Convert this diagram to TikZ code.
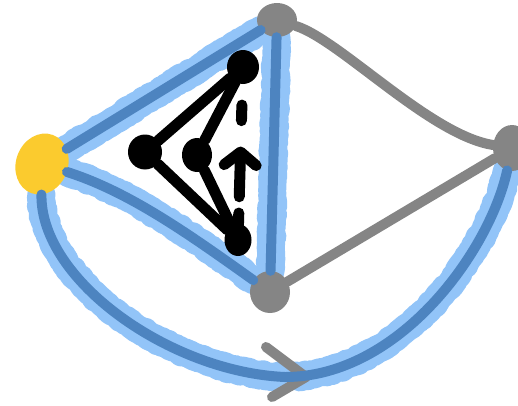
\documentclass[tikz,border=0pt]{standalone}
\usetikzlibrary{calc, shapes.geometric, arrows.meta, backgrounds, decorations.pathmorphing}

\begin{document}
\begin{tikzpicture}[x=1pt, y=-1pt,
    dot/.style={ellipse, inner sep=0pt},
    greyEdge/.style={draw=greyColour, line width=10pt, line cap=round},
    haloEdge/.style={draw=haloBlue, line width=28pt, line cap=round, line join=round,
        decorate, decoration={random steps, segment length=3pt, amplitude=1.2pt}},
    markedEdge/.style={draw=lineBlue, line width=10pt, line cap=round},
    blackEdge/.style={draw=black, line width=11pt, line cap=round, line join=round}]

    \definecolor{greyColour}{HTML}{858585}
    \definecolor{lineBlue}{HTML}{4D84C0}
    \definecolor{haloBlue}{HTML}{92C4F8}
    \definecolor{yellowColour}{HTML}{FBCB2E}

    % Fix the page size
    \useasboundingbox (0,0) rectangle (518,405);

    % Draw the outer vertices
    \node[dot, fill=yellowColour, minimum width=52pt, minimum height=62pt, rotate=-20] (y) at (42,164) {};
    \node[dot, fill=greyColour, minimum width=40pt, minimum height=34pt] (t) at (277,20) {};
    \node[dot, fill=greyColour, minimum width=40pt, minimum height=42pt] (b) at (270,292) {};
    \node[dot, fill=greyColour, minimum width=38pt, minimum height=46pt] (r) at (512,148) {};

    % Highlighter under the marked edges
    \coordinate (mid) at (285,377);
    \begin{scope}[on background layer]
        \draw[haloEdge] (y) -- (t);
        \draw[haloEdge] (y) .. controls (130,192) and (190,235) .. (b);
        \draw[haloEdge] (t) -- (b);
        \draw[haloEdge] (y) .. controls (40,280) and (170,372) .. (mid) .. controls (400,377) and (490,250) .. (r);
    \end{scope}

    % Draw the plain edges
    \draw[greyEdge] (t) .. controls (340,40) and (430,135) .. (r);
    \draw[greyEdge] (b) -- (r);

    % Arrow tip on the outer curve
    \draw[greyEdge, line join=round] ($(mid)+(-19,-30)$) -- ($(mid)+(21,0)$) -- ($(mid)+(-13,20)$);

    % Draw the marked edges
    \draw[markedEdge] (y) -- (t);
    \draw[markedEdge] (y) .. controls (130,192) and (190,235) .. (b);
    \draw[markedEdge] (t) -- (b);
    \draw[markedEdge] (y) .. controls (40,280) and (170,372) .. (mid) .. controls (400,377) and (490,250) .. (r);

    % Draw the small inner graph
    \node[dot, fill=black, minimum width=32pt, minimum height=34pt] (k1) at (243,67) {};
    \node[dot, fill=black, minimum width=34pt, minimum height=35pt] (k2) at (145,152) {};
    \node[dot, fill=black, minimum width=30pt, minimum height=34pt] (k3) at (197,155) {};
    \node[dot, fill=black, minimum width=27pt, minimum height=32pt] (k4) at (238,240) {};

    \draw[blackEdge] (k1) -- (k2);
    \draw[blackEdge] (k1) -- (k3);
    \draw[blackEdge] (k2) -- (k4);
    \draw[blackEdge] (k3) -- (k4);

    % Dashed arrow from k4 up to k1
    \draw[blackEdge] ($(k4)!0.075!(k1)$) -- ($(k4)!0.156!(k1)$);
    \draw[blackEdge, -{Straight Barb[length=13pt, width=32pt, round]}] ($(k4)!0.25!(k1)$) -- ($(k4)!0.54!(k1)$);
    \draw[blackEdge] ($(k4)!0.69!(k1)$) -- ($(k4)!0.78!(k1)$);

\end{tikzpicture}
\end{document}
